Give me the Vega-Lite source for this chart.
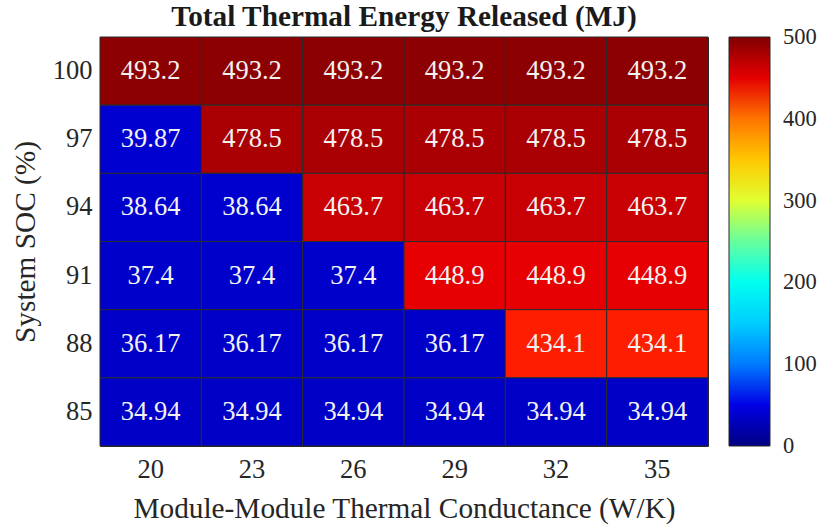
{
  "$schema": "https://vega.github.io/schema/vega-lite/v6.json",
  "autosize": {"type": "none"},
  "width": 608,
  "height": 409,
  "padding": {"left": 100, "top": 37, "right": 111, "bottom": 80},
  "background": "white",
  "title": {
    "text": "Total Thermal Energy Released (MJ)",
    "font": "Liberation Serif",
    "fontSize": 29.3,
    "fontWeight": "bold",
    "color": "#1a1a1a",
    "anchor": "middle",
    "offset": 4
  },
  "data": {
    "values": [
      {"k": 20, "soc": 100, "e": 493.2}, {"k": 23, "soc": 100, "e": 493.2}, {"k": 26, "soc": 100, "e": 493.2},
      {"k": 29, "soc": 100, "e": 493.2}, {"k": 32, "soc": 100, "e": 493.2}, {"k": 35, "soc": 100, "e": 493.2},
      {"k": 20, "soc": 97, "e": 39.87}, {"k": 23, "soc": 97, "e": 478.5}, {"k": 26, "soc": 97, "e": 478.5},
      {"k": 29, "soc": 97, "e": 478.5}, {"k": 32, "soc": 97, "e": 478.5}, {"k": 35, "soc": 97, "e": 478.5},
      {"k": 20, "soc": 94, "e": 38.64}, {"k": 23, "soc": 94, "e": 38.64}, {"k": 26, "soc": 94, "e": 463.7},
      {"k": 29, "soc": 94, "e": 463.7}, {"k": 32, "soc": 94, "e": 463.7}, {"k": 35, "soc": 94, "e": 463.7},
      {"k": 20, "soc": 91, "e": 37.4}, {"k": 23, "soc": 91, "e": 37.4}, {"k": 26, "soc": 91, "e": 37.4},
      {"k": 29, "soc": 91, "e": 448.9}, {"k": 32, "soc": 91, "e": 448.9}, {"k": 35, "soc": 91, "e": 448.9},
      {"k": 20, "soc": 88, "e": 36.17}, {"k": 23, "soc": 88, "e": 36.17}, {"k": 26, "soc": 88, "e": 36.17},
      {"k": 29, "soc": 88, "e": 36.17}, {"k": 32, "soc": 88, "e": 434.1}, {"k": 35, "soc": 88, "e": 434.1},
      {"k": 20, "soc": 85, "e": 34.94}, {"k": 23, "soc": 85, "e": 34.94}, {"k": 26, "soc": 85, "e": 34.94},
      {"k": 29, "soc": 85, "e": 34.94}, {"k": 32, "soc": 85, "e": 34.94}, {"k": 35, "soc": 85, "e": 34.94}
    ]
  },
  "encoding": {
    "x": {
      "field": "k",
      "type": "ordinal",
      "sort": "ascending",
      "scale": {"paddingInner": 0, "paddingOuter": 0},
      "axis": {
        "title": "Module-Module Thermal Conductance (W/K)",
        "labelAngle": 0,
        "ticks": false,
        "domain": false,
        "labelPadding": 10,
        "titlePadding": 12
      }
    },
    "y": {
      "field": "soc",
      "type": "ordinal",
      "sort": "descending",
      "scale": {"paddingInner": 0, "paddingOuter": 0},
      "axis": {
        "title": "System SOC (%)",
        "ticks": false,
        "domain": false,
        "labelPadding": 8,
        "titlePadding": 12
      }
    }
  },
  "layer": [
    {
      "mark": {"type": "rect", "stroke": "#2b2b2b", "strokeWidth": 1},
      "encoding": {
        "color": {
          "field": "e",
          "type": "quantitative",
          "scale": {
            "domain": [0, 62.5, 187.5, 312.5, 437.5, 500],
            "range": ["#000083", "#0000ff", "#00ffff", "#ffff00", "#ff0000", "#800000"]
          },
          "legend": {
            "orient": "none",
            "legendX": 629,
            "legendY": 0,
            "direction": "vertical",
            "title": null,
            "gradientLength": 409,
            "gradientThickness": 41,
            "gradientStrokeColor": "#262626",
            "gradientStrokeWidth": 1,
            "values": [0, 100, 200, 300, 400, 500],
            "labelFont": "Liberation Serif",
            "labelFontSize": 22.5,
            "labelColor": "#262626",
            "labelOffset": 13,
            "labelOverlap": false,
            "labelLimit": 200,
            "padding": 0,
            "encode": {
              "labels": {"update": {"baseline": {"value": "middle"}}}
            }
          }
        }
      }
    },
    {
      "mark": {"type": "text", "font": "Liberation Serif", "fontSize": 26.5, "fill": "#f2f2f2"},
      "encoding": {
        "text": {"field": "e", "type": "quantitative", "format": ".4~g"}
      }
    }
  ],
  "config": {
    "view": {"stroke": "#262626", "strokeWidth": 1},
    "mark": {"font": "Liberation Serif"},
    "text": {"font": "Liberation Serif"},
    "axis": {
      "labelFont": "Liberation Serif",
      "labelFontSize": 26.5,
      "labelColor": "#262626",
      "titleFont": "Liberation Serif",
      "titleFontSize": 29.3,
      "titleFontWeight": "normal",
      "titleColor": "#262626",
      "grid": false
    }
  }
}
